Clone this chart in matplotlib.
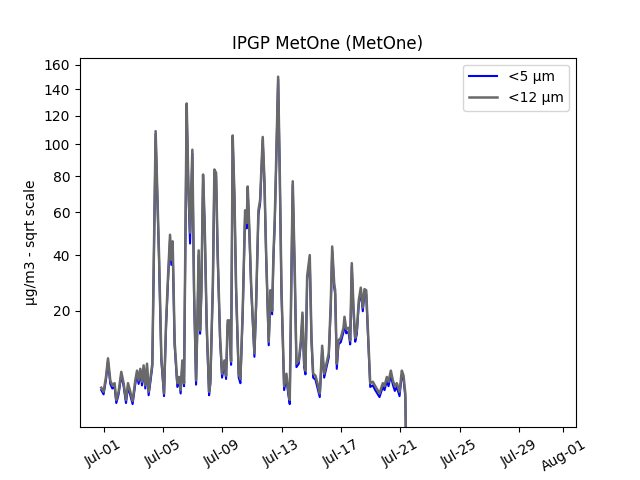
import numpy as np
import pandas as pd
import matplotlib
matplotlib.use("Agg")
import matplotlib.pyplot as plt
import matplotlib.dates as mdates

# time in days after 2023-07-01 00:00
days = [-0.155, 0.0, 0.162, 0.297, 0.452, 0.587, 0.742, 0.857, 1.012, 1.194,
        1.350, 1.511, 1.646, 1.802, 1.957, 2.139, 2.254, 2.362, 2.476, 2.591,
        2.699, 2.814, 2.928, 3.036, 3.151, 3.286, 3.509, 3.738, 3.893, 4.076,
        4.211, 4.345, 4.480, 4.568, 4.656, 4.791, 4.973, 5.088, 5.196, 5.310,
        5.425, 5.601, 5.715, 5.830, 5.985, 6.100, 6.235, 6.323, 6.410, 6.505,
        6.592, 6.707, 6.815, 6.950, 7.112, 7.200, 7.314, 7.368, 7.470, 7.584,
        7.692, 7.854, 7.989, 8.144, 8.259, 8.367, 8.482, 8.596, 8.704, 8.819,
        8.934, 9.109, 9.224, 9.379, 9.541, 9.649, 9.717, 9.831, 9.946, 10.169,
        10.283, 10.439, 10.553, 10.729, 10.844, 10.958, 11.134, 11.248, 11.363, 11.451,
        11.538, 11.606, 11.768, 11.876, 11.991, 12.173, 12.328, 12.443, 12.551, 12.665,
        12.753, 12.888, 13.003, 13.158, 13.293, 13.408, 13.522, 13.610, 13.725, 13.900,
        14.015, 14.130, 14.285, 14.420, 14.575, 14.737, 14.872, 15.027, 15.182, 15.317,
        15.412, 15.547, 15.614, 15.722, 15.837, 15.992, 16.174, 16.242, 16.356, 16.511,
        16.626, 16.734, 16.849, 16.964, 17.072, 17.206, 17.341, 17.476, 17.591, 17.706,
        17.814, 17.976, 18.151, 18.313, 18.603, 18.826, 18.941, 19.096, 19.211, 19.366,
        19.501, 19.636, 19.771, 19.953, 20.108, 20.223, 20.344, 20.391]

pm12 = [3.7, 3.2, 5.2, 8.4, 4.7, 4.0, 4.3, 2.3, 3.2, 6.0,
        4.3, 2.3, 4.3, 3.2, 2.2, 4.7, 6.2, 4.7, 6.5, 4.5,
        7.1, 4.0, 7.4, 3.2, 4.9, 7.4, 109, 40, 8.7, 3.0,
        16.5, 31.6, 49, 38, 46, 11.9, 4.3, 5.2, 3.4, 8.0,
        4.3, 129, 76, 50, 96.5, 26.6, 4.7, 16.5, 42, 14.7,
        26.6, 81, 54.6, 16.5, 3.2, 4.7, 18.3, 29, 84, 82,
        41, 13, 5.7, 8.0, 5.4, 17.3, 17.3, 7.8, 106, 70,
        27.5, 5.7, 4.9, 20, 61, 54.6, 74, 51, 29, 9.4,
        22.4, 61, 66.5, 105, 78, 41, 11.9, 26.6, 20, 40,
        56, 78, 150, 84, 27.5, 3.9, 5.7, 3.4, 2.3, 34,
        77, 34, 7.4, 8.0, 11.9, 19.5, 7.4, 6.2, 31.6, 40,
        13, 5.7, 5.4, 4.3, 3.0, 11, 5.7, 7.4, 9.4, 22.4,
        43.7, 29, 26.6, 7.4, 12.2, 12.8, 15.3, 18.3, 15, 15.3,
        12.2, 36.7, 21, 12.8, 14.7, 23.3, 27.5, 21, 27, 26.6,
        15.3, 4.3, 4.5, 3.9, 3.0, 4.3, 3.9, 5.2, 4.5, 6.2,
        4.7, 3.9, 4.3, 3.2, 6.2, 5.4, 3.0, 0.0]

pm5 = [3.4, 2.9, 4.8, 7.9, 4.2, 3.6, 3.8, 2.0, 2.9, 5.5,
       3.9, 2.0, 3.8, 2.8, 1.9, 4.2, 5.7, 4.2, 6.0, 4.0,
       6.6, 3.6, 6.8, 2.8, 4.4, 6.9, 107, 38, 8.0, 2.7,
       15.5, 30, 47, 36, 44, 11.0, 3.8, 4.7, 3.0, 7.4,
       3.9, 126, 72, 45, 94, 25, 4.1, 15.5, 40, 13.8,
       25.5, 79, 53, 15.5, 2.8, 4.2, 17.3, 28, 82, 80,
       39.5, 12.2, 5.1, 7.4, 4.9, 16.4, 16.4, 7.2, 104, 68,
       26.3, 5.1, 4.3, 19, 59, 52, 72, 49, 27.8, 8.7,
       21.3, 59, 64.5, 103, 76, 39.5, 11.1, 25.5, 19, 38.5,
       54, 76, 148, 82, 26.3, 3.4, 5.1, 3.0, 1.9, 32.5,
       75, 32.5, 6.8, 7.4, 11.1, 18.5, 6.8, 5.6, 30.2, 38.5,
       12.1, 5.1, 4.8, 3.7, 2.6, 10.2, 5.1, 6.7, 8.6, 21.2,
       42, 27.7, 25.3, 6.5, 11.3, 11.8, 14.2, 17.2, 13.9, 14.3,
       11.3, 35.3, 19.9, 11.9, 13.7, 22.1, 26.3, 19.9, 25.8, 25.4,
       14.3, 3.8, 4.0, 3.4, 2.6, 3.8, 3.4, 4.6, 3.9, 5.5,
       4.1, 3.3, 3.8, 2.7, 5.6, 4.8, 2.6, 0.0]

start = pd.Timestamp("2023-07-01")
t = start + pd.to_timedelta(days, unit="D")

fig, ax = plt.subplots(figsize=(6.4, 4.8), dpi=100)
ax.plot(t, pm5, color="blue", lw=1.5, label="<5 µm")
ax.plot(t, pm12, color="dimgray", lw=1.8, label="<12 µm")

ax.set_yscale("function", functions=(lambda v: np.sqrt(np.clip(v, 0, None)),
                                     lambda v: v ** 2))
ax.set_ylim(0.375, 165.9)
ax.set_xlim(start - pd.Timedelta(days=1.59), start + pd.Timedelta(days=31.85))

ax.xaxis.set_major_locator(mdates.DayLocator(bymonthday=[1, 5, 9, 13, 17, 21, 25, 29]))
ax.xaxis.set_major_formatter(mdates.DateFormatter("%b-%d"))
plt.setp(ax.get_xticklabels(), rotation=30)

ax.set_title("IPGP MetOne (MetOne)")
ax.set_ylabel("µg/m3 - sqrt scale")
ax.legend(loc="upper right")

fig.savefig("out.png")
